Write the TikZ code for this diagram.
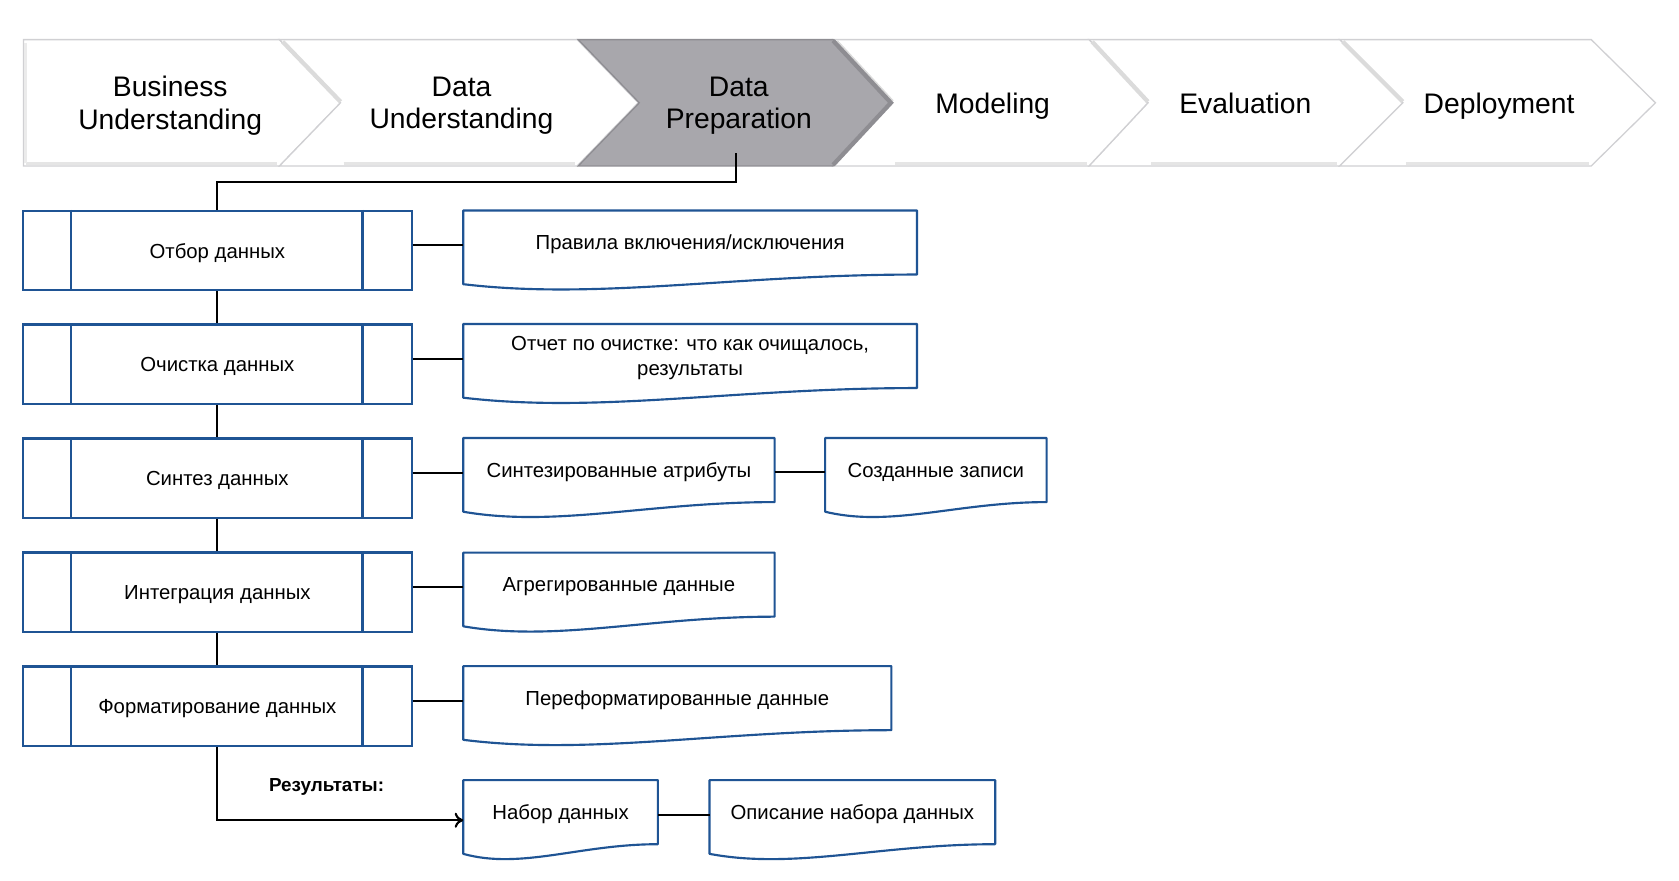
\documentclass[tikz,border=0pt]{standalone}
\usepackage{fontspec}
\setmainfont{Liberation Sans}
\usetikzlibrary{arrows.meta,calc}
\definecolor{bxblue}{HTML}{1F5494}
\definecolor{chevgray}{HTML}{A8A7AC}
\definecolor{chevdark}{HTML}{8E8D92}
\definecolor{chevedge}{HTML}{D0D0D3}
\newcommand{\chevshape}[5]{%
  \path[#5] (#1,37) -- (#3,37) -- (#4,96) -- (#3,155) -- (#1,155) -- (#2,96) -- cycle;}
\newcommand{\docshape}[2]{%
  \draw[docline] (#1.south east) -- (#1.north east) -- (#1.north west) -- ([yshift=-4.5pt]#1.south west)
    .. controls ($(#1.south west)+(0.3*#2,24)$) and ($(#1.south west)+(0.6*#2,0)$) .. (#1.south east) -- cycle;}
\begin{document}
\begin{tikzpicture}[x=0.5pt,y=-0.5pt,
  chevw/.style={fill=white, draw=chevedge, line width=0.6pt, line join=miter},
  chevg/.style={fill=chevgray, draw=chevdark, line width=0.6pt},
  bevel/.style={draw=black!14, line width=2pt},
  chevtxt/.style={font=\fontsize{13.2}{15}\selectfont, align=center, inner sep=0pt, text depth=0pt},
  proc/.style={draw=bxblue, line width=1pt, fill=white, minimum width=181.5pt, minimum height=37pt, inner sep=0pt, text depth=0pt, font=\fontsize{9.5}{11.5}\selectfont},
  doc/.style={minimum height=29.5pt, inner sep=0pt, align=center, text depth=0pt, font=\fontsize{9.5}{12}\selectfont},
  docline/.style={draw=bxblue, line width=1pt, line join=round},
  conn/.style={draw=black, line width=1pt},
  inline/.style={draw=bxblue, line width=1pt},
]
\useasboundingbox (0,0) rectangle (1568,822);
\fill[white] (0,0) rectangle (1568,822);

% chevrons
\chevshape{22}{22}{261}{318}{chevw}
\chevshape{261}{318}{539}{596}{chevw}
\chevshape{1251}{1310}{1486}{1546}{chevw}
\chevshape{1017}{1072}{1251}{1310}{chevw}
\chevshape{778}{833}{1017}{1072}{chevw}
\chevshape{540}{597}{778}{833}{chevg}
% bevels / shadows
\draw[bevel] (264,39) -- (318,95);
\draw[bevel] (781,39) -- (833,95);
\draw[bevel] (1020,39) -- (1072,95);
\draw[bevel] (1254,39) -- (1310,95);
\draw[draw=chevdark, line width=2pt] (778,38) -- (832,96) -- (778,154);
\foreach \l/\r in {24/259, 321/537, 836/1015, 1075/1249, 1313/1484}
  \draw[draw=black!10, line width=1.2pt] (\l,152.5) -- (\r,152.5);
\draw[draw=black!8, line width=1.2pt] (24,40) -- (24,152);

\node[chevtxt] (BU) at (159,96) {Business\\Understanding};
\node[chevtxt] (DU) at (431,96) {Data\\Understanding};
\node[chevtxt] (DP) at (690,96) {Data\\Preparation};
\node[chevtxt] (MO) at (927,96) {Modeling};
\node[chevtxt] (EV) at (1163,96) {Evaluation};
\node[chevtxt] (DE) at (1400,96) {Deployment};
\coordinate (dpb) at (687,143);

% process boxes
\node[proc] (p1) at (203,234) {Отбор данных};
\node[proc] (p2) at (203,340) {Очистка данных};
\node[proc] (p3) at (203,446.5) {Синтез данных};
\node[proc] (p4) at (203,553) {Интеграция данных};
\node[proc] (p5) at (203,659.5) {Форматирование данных};
\foreach \n in {p1,p2,p3,p4,p5}{
  \draw[inline] ([xshift=23pt]\n.north west) -- ([xshift=23pt]\n.south west);
  \draw[inline] ([xshift=-23.5pt]\n.north east) -- ([xshift=-23.5pt]\n.south east);
}

% documents
\node[doc, minimum width=211.5pt] (d1) at (644.5,226.5) {Правила включения/исключения};
\node[doc, minimum width=211.5pt] (d2) at (644.5,332.5) {Отчет по очистке: что как очищалось,\\результаты};
\node[doc, minimum width=145pt] (d3a) at (578,439) {Синтезированные атрибуты};
\node[doc, minimum width=103pt] (d3b) at (874,439) {Созданные записи};
\node[doc, minimum width=145pt] (d4) at (578,546) {Агрегированные данные};
\node[doc, minimum width=199.5pt] (d5) at (632.5,652) {Переформатированные данные};
\node[doc, minimum width=90.5pt] (d6a) at (523.5,758.5) {Набор данных};
\node[doc, minimum width=133pt] (d6b) at (796,758.5) {Описание набора данных};
\docshape{d1}{423}
\docshape{d2}{423}
\docshape{d3a}{290}
\docshape{d3b}{206}
\docshape{d4}{290}
\docshape{d5}{399}
\docshape{d6a}{181}
\docshape{d6b}{266}

% connectors
\draw[conn] (dpb) -- ++(0,27) -| (p1.north);
\draw[conn] (p1.south) -- (p2.north);
\draw[conn] (p2.south) -- (p3.north);
\draw[conn] (p3.south) -- (p4.north);
\draw[conn] (p4.south) -- (p5.north);
\draw[conn] ([yshift=-1.25pt]d1.west -| p1.east) -- ([yshift=-1.25pt]d1.west);
\draw[conn] ([yshift=-1.25pt]d2.west -| p2.east) -- ([yshift=-1.25pt]d2.west);
\draw[conn] ([yshift=-1.25pt]d3a.west -| p3.east) -- ([yshift=-1.25pt]d3a.west);
\draw[conn] ([yshift=-1.25pt]d4.west -| p4.east) -- ([yshift=-1.25pt]d4.west);
\draw[conn] ([yshift=-1.25pt]d5.west -| p5.east) -- ([yshift=-1.25pt]d5.west);
\draw[conn] ([yshift=-1pt]d3a.east) -- ([yshift=-1pt]d3b.west);
\draw[conn] ([yshift=-1.5pt]d6a.east) -- ([yshift=-1.5pt]d6b.west);
\draw[conn, -{To[length=4pt,width=7pt]}] (p5.south) |- ([yshift=-3.75pt]d6a.west);
\node[font=\bfseries\fontsize{8.8}{11}\selectfont, inner sep=0pt] (res) at (305,735) {Результаты:};
\end{tikzpicture}
\end{document}
